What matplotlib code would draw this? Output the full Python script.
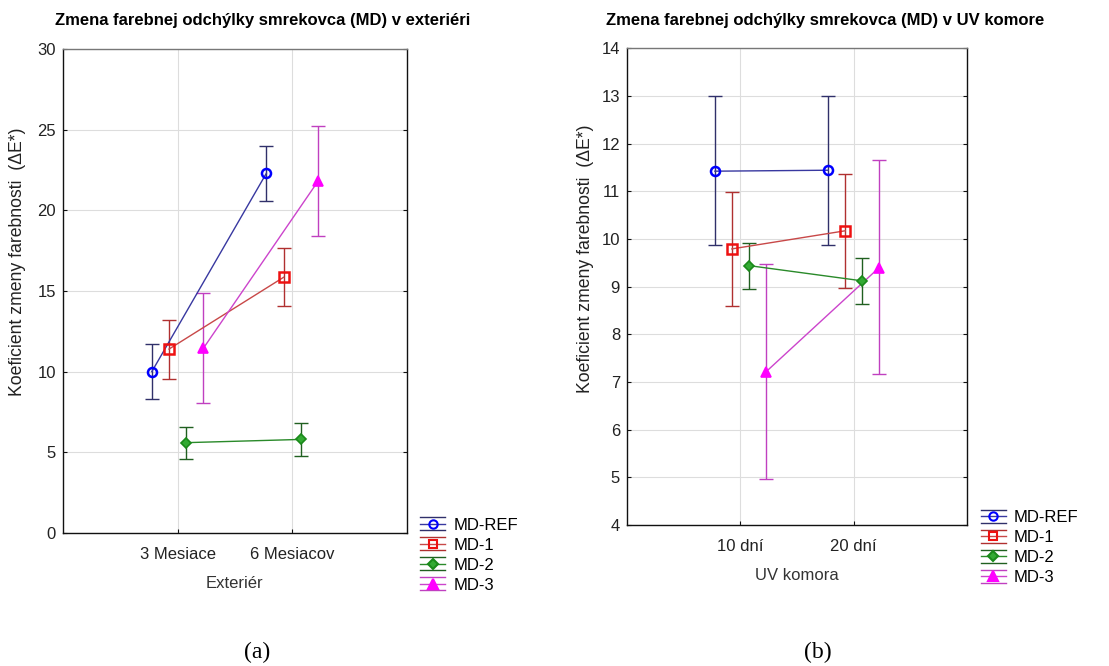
import matplotlib
matplotlib.use("Agg")
import matplotlib.pyplot as plt
import numpy as np
from matplotlib.legend_handler import HandlerBase
from matplotlib.lines import Line2D

series = ["MD-REF", "MD-1", "MD-2", "MD-3"]

# Panel (a) - exterior
cats_a = ["3 Mesiace", "6 Mesiacov"]
mean_a = {"MD-REF": [10.0, 22.3], "MD-1": [11.4, 15.85], "MD-2": [5.6, 5.8], "MD-3": [11.45, 21.8]}
low_a = {"MD-REF": [8.3, 20.6], "MD-1": [9.55, 14.05], "MD-2": [4.6, 4.8], "MD-3": [8.05, 18.4]}
high_a = {"MD-REF": [11.7, 24.0], "MD-1": [13.2, 17.65], "MD-2": [6.6, 6.8], "MD-3": [14.85, 25.2]}

# Panel (b) - UV chamber
cats_b = ["10 dní", "20 dní"]
mean_b = {"MD-REF": [11.42, 11.44], "MD-1": [9.79, 10.17], "MD-2": [9.44, 9.12], "MD-3": [7.21, 9.4]}
low_b = {"MD-REF": [9.87, 9.87], "MD-1": [8.6, 8.98], "MD-2": [8.95, 8.63], "MD-3": [4.96, 7.16]}
high_b = {"MD-REF": [13.0, 13.0], "MD-1": [10.99, 11.36], "MD-2": [9.91, 9.6], "MD-3": [9.47, 11.65]}

marker_col = {"MD-REF": "#0000ff", "MD-1": "#ee1111", "MD-2": "#1a8a1a", "MD-3": "#ff00ff"}
line_col = {"MD-REF": "#3838a0", "MD-1": "#c84848", "MD-2": "#2a8a2a", "MD-3": "#cc44cc"}
err_col = {"MD-REF": "#30306a", "MD-1": "#b03030", "MD-2": "#206020", "MD-3": "#c040c0"}
markers = {"MD-REF": "o", "MD-1": "s", "MD-2": "D", "MD-3": "^"}
msize = {"MD-REF": 6.5, "MD-1": 6.5, "MD-2": 5.5, "MD-3": 7.5}
offsets = [-0.225, -0.075, 0.075, 0.225]

plt.rcParams['font.family'] = ['Liberation Sans', 'DejaVu Sans']
fig = plt.figure(figsize=(11.09, 6.66), dpi=100)


def face(s):
    if s == "MD-3":
        return marker_col[s]
    if s == "MD-2":
        return "#33aa33"
    return "none"


class ErrHandler(HandlerBase):
    def __init__(self, name):
        super().__init__()
        self.name = name

    def create_artists(self, legend, orig_handle, xdescent, ydescent, width, height, fontsize, trans):
        n = self.name
        arts = []
        cy = height / 2 - ydescent
        for dy in (-height * 0.55, height * 0.55):
            arts.append(Line2D([0 - xdescent, width - xdescent], [cy + dy, cy + dy],
                               color=err_col[n], lw=1.0, transform=trans))
        arts.append(Line2D([0 - xdescent, width - xdescent], [cy, cy], color=line_col[n], lw=1.0,
                           transform=trans))
        arts.append(Line2D([width / 2 - xdescent], [cy], marker=markers[n], ms=msize[n] - 0.5,
                           mec=marker_col[n], mfc=face(n), mew=1.5, ls="none", transform=trans))
        return arts


def draw(ax, cats, mean, low, high, ylim, yticks, xlabel, title, title_x, ylab_x, ylab_y, leg_y):
    xs = np.arange(1, len(cats) + 1)
    handles = []
    for i, s in enumerate(series):
        x = xs + offsets[i]
        m = np.array(mean[s]); lo = np.array(low[s]); hi = np.array(high[s])
        ax.errorbar(x, m, yerr=[m - lo, hi - m], fmt="none", ecolor=err_col[s],
                    elinewidth=1.0, capsize=5, capthick=1.0, zorder=2)
        ax.plot(x, m, color=line_col[s], lw=1.0, zorder=3)
        h, = ax.plot(x, m, ls="none", marker=markers[s], ms=msize[s], mec=marker_col[s],
                     mfc=face(s), mew=1.8 if s in ("MD-REF", "MD-1") else 1.2, zorder=4)
        handles.append(h)
    ax.set_xlim(0, 3)
    ax.set_ylim(*ylim)
    ax.set_yticks(yticks)
    ax.set_xticks(xs)
    ax.set_xticklabels(cats)
    ax.grid(True, color="#dddddd", lw=0.8)
    ax.set_axisbelow(True)
    ax.tick_params(axis="both", labelsize=12, labelcolor="#222222", color="#111111",
                   length=3, direction="in", pad=5)
    ax.tick_params(axis="x", pad=10)
    ax.tick_params(axis="y", right=True)
    for sp in ax.spines.values():
        sp.set_color("#111111"); sp.set_linewidth(1.0)
    ax.spines["top"].set_color("#777777")
    ax.set_xlabel(xlabel, fontsize=12, color="#333333", labelpad=10)
    ax.set_ylabel("Koeficient zmeny farebnosti  (ΔE*)", fontsize=12.7, color="#222222")
    ax.yaxis.set_label_coords(ylab_x, ylab_y)
    fig.text(title_x, 1 - 21 / 666, title, fontsize=12, fontweight="bold",
             ha="center", va="center")
    ax.legend(handles, series, loc="lower left", bbox_to_anchor=(1.02, leg_y),
              frameon=False, fontsize=12, handlelength=1.5, handletextpad=0.5,
              labelspacing=0.3, borderaxespad=0,
              handler_map={h: ErrHandler(s) for h, s in zip(handles, series)})
    return ax


ax1 = fig.add_axes([0.0568, 0.1997, 0.310, 0.7267])
draw(ax1, cats_a, mean_a, low_a, high_a, (0, 30), [0, 5, 10, 15, 20, 25, 30], "Exteriér",
     "Zmena farebnej odchýlky smrekovca (MD) v exteriéri", 263 / 1109, -0.108, 0.56, -0.137)

ax2 = fig.add_axes([0.5654, 0.2117, 0.3066, 0.716])
draw(ax2, cats_b, mean_b, low_b, high_b, (4, 14), list(range(4, 15)), "UV komora",
     "Zmena farebnej odchýlky smrekovca (MD) v UV komore", 825 / 1109, -0.097, 0.558, -0.140)

fig.text(257 / 1109, 1 - 652 / 666, "(a)", fontsize=17, family="Liberation Serif", ha="center", va="center")
fig.text(818 / 1109, 1 - 652 / 666, "(b)", fontsize=17, family="Liberation Serif", ha="center", va="center")

fig.savefig("out.png", dpi=100)
